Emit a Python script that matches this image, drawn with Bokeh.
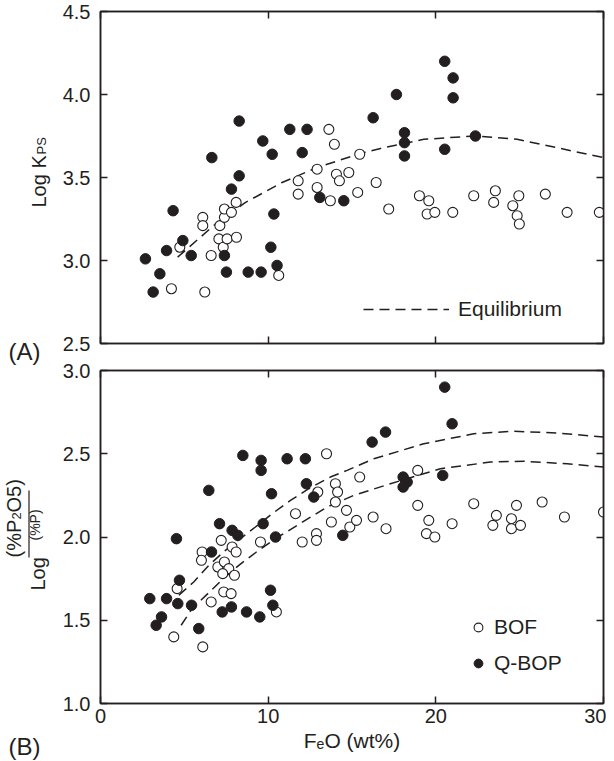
import math
from bokeh.plotting import figure
from bokeh.models import Range1d, FixedTicker, LinearAxis, Legend, LegendItem, PrintfTickFormatter
from bokeh.core.properties import value
from bokeh.layouts import column, row
from bokeh.embed import file_html
from bokeh.resources import INLINE

# ---------------- data ----------------
x_ticks = [0, 10, 20, 30]
a_y_ticks = [2.5, 3.0, 3.5, 4.0, 4.5]
b_y_ticks = [1.0, 1.5, 2.0, 2.5, 3.0]
x_title = "F\u2091O (wt%)"

# Panel A: Log K_PS vs FeO
a_bof_x = [4.23, 6.22, 4.73, 6.60, 6.10, 6.10, 7.12, 7.06, 7.32, 7.55, 8.11, 7.39, 7.39, 7.81, 8.09,
           10.63, 11.79, 11.79, 12.92, 12.92, 13.71, 13.62, 13.95, 14.07, 14.25, 14.81, 15.46, 15.34,
           16.44, 17.19, 19.02, 19.58, 19.48, 19.94, 21.01, 22.26, 23.55, 23.45, 24.59, 24.95, 24.85,
           24.98, 26.53, 27.83, 29.75]
a_bof_y = [2.83, 2.81, 3.08, 3.03, 3.26, 3.21, 3.21, 3.13, 3.08, 3.13, 3.14, 3.26, 3.31, 3.29, 3.35,
           2.91, 3.48, 3.40, 3.55, 3.44, 3.36, 3.79, 3.70, 3.52, 3.48, 3.53, 3.64, 3.41,
           3.47, 3.31, 3.39, 3.36, 3.28, 3.29, 3.29, 3.39, 3.42, 3.35, 3.33, 3.39, 3.27,
           3.22, 3.40, 3.29, 3.29]
a_qbop_x = [2.68, 3.54, 3.14, 3.94, 4.33, 4.91, 5.41, 6.64, 7.39, 7.51, 7.81, 8.27, 8.27, 8.81, 9.58,
            9.68, 10.16, 10.34, 10.24, 10.53, 11.29, 12.32, 12.03, 13.08, 14.51, 16.26, 17.65, 18.13,
            18.13, 18.13, 20.53, 21.03, 21.03, 20.53, 22.36]
a_qbop_y = [3.01, 2.92, 2.81, 3.06, 3.30, 3.12, 3.03, 3.62, 3.03, 2.93, 3.43, 3.51, 3.84, 2.93, 2.93,
            3.72, 3.08, 3.28, 3.64, 2.97, 3.79, 3.79, 3.65, 3.38, 3.36, 3.86, 4.00, 3.77,
            3.71, 3.63, 4.20, 4.10, 3.98, 3.67, 3.75]
a_eq_x = [4.6, 6.86, 8.65, 10.83, 12.92, 15.5, 16.7, 19.28, 22.36, 24.85, 27.2, 30.0]
a_eq_y = [3.02, 3.22, 3.35, 3.47, 3.56, 3.645, 3.675, 3.73, 3.75, 3.73, 3.68, 3.62]

# Panel B: Log (%P2O5)/(%P) vs FeO
b_bof_x = [4.37, 6.10, 4.57, 6.60, 6.06, 6.02, 7.20, 7.85, 8.09, 7.00, 7.39, 7.65, 7.29, 7.99, 7.35,
           7.79, 9.54, 10.49, 11.63, 12.03, 12.88, 12.88, 12.96, 13.48, 14.01, 14.14, 14.01, 13.77,
           14.67, 14.87, 15.27, 15.46, 16.26, 17.03, 18.92, 18.92, 19.58, 19.44, 19.94, 20.97, 22.26,
           23.61, 23.40, 24.51, 24.51, 25.05, 24.81, 26.34, 27.67, 30.0]
b_bof_y = [1.40, 1.34, 1.69, 1.61, 1.91, 1.86, 1.98, 1.94, 1.91, 1.82, 1.85, 1.81, 1.78, 1.77, 1.67,
           1.66, 1.97, 1.55, 2.14, 1.97, 2.02, 1.98, 2.27, 2.50, 2.32, 2.27, 2.21, 2.09,
           2.16, 2.06, 2.10, 2.36, 2.12, 2.05, 2.40, 2.19, 2.10, 2.02, 2.00, 2.08, 2.20,
           2.13, 2.07, 2.11, 2.05, 2.07, 2.19, 2.21, 2.12, 2.15]
b_qbop_x = [2.94, 3.64, 3.32, 3.94, 4.61, 4.53, 4.71, 5.43, 5.86, 6.46, 6.62, 7.10, 7.26, 7.81, 7.85,
            8.19, 8.49, 8.71, 9.50, 9.58, 9.58, 9.70, 10.14, 10.28, 10.20, 10.44, 11.13, 12.22,
            12.28, 12.72, 14.45, 16.20, 17.00, 18.05, 18.29, 18.05, 20.41, 20.53, 20.97]
b_qbop_y = [1.63, 1.52, 1.47, 1.63, 1.60, 1.99, 1.74, 1.59, 1.45, 2.28, 1.91, 2.08, 1.55, 1.58, 2.04,
            2.01, 2.49, 1.55, 1.52, 2.46, 2.40, 2.08, 1.68, 1.59, 2.26, 2.00, 2.47, 2.47,
            2.32, 2.24, 2.01, 2.57, 2.63, 2.36, 2.33, 2.30, 2.37, 2.90, 2.68]
b_eq_hi_x = [4.67, 5.56, 6.46, 7.45, 9.24, 10.24, 11.33, 12.42, 13.71, 14.71, 16.3, 19.28, 22.26,
             24.65, 27.23, 30.0]
b_eq_hi_y = [1.65, 1.73, 1.83, 1.92, 2.06, 2.14, 2.22, 2.29, 2.36, 2.40, 2.47, 2.56, 2.62,
             2.635, 2.625, 2.60]
b_eq_lo_x = [4.81, 5.47, 6.40, 7.32, 8.25, 9.3, 10.44, 11.73, 13.52, 15.1, 17.29, 20.27, 23.25,
             25.24, 27.83, 30.0]
b_eq_lo_y = [1.47, 1.57, 1.66, 1.75, 1.83, 1.91, 1.99, 2.07, 2.18, 2.25, 2.32, 2.41, 2.45,
             2.455, 2.44, 2.42]

# ---------------- styling / layout sizes ----------------
INK = "#231f20"
FONT = "Liberation Sans"
DASH = "10 6"
TICK_FS = "20px"
STRIP_W = 58            # left title strip (px)
MAIN_W = 548            # panel figures (px)
H_A, H_B = 358, 402     # panel heights (px)
BASE_FIX = 6            # the text glyph sits this much below its alphabetic anchor


def style_axis(ax, ticks, show_labels, fmt=None, standoff=9):
    ax.ticker = FixedTicker(ticks=ticks)
    ax.major_tick_in = 7
    ax.major_tick_out = 0
    ax.minor_tick_line_color = None
    ax.axis_line_color = INK
    ax.axis_line_width = 1.5
    ax.major_tick_line_color = INK
    ax.major_tick_line_width = 1.5
    if fmt is not None:
        ax.formatter = fmt
    if show_labels:
        ax.major_label_text_font = FONT
        ax.major_label_text_font_size = TICK_FS
        ax.major_label_text_color = INK
        ax.major_label_standoff = standoff
    else:
        # tick marks only: labels take no room and are not painted
        ax.major_label_text_font_size = "0px"
        ax.major_label_text_color = None
        ax.major_label_standoff = 0


def make_panel(height, yr, yticks, btop, bbot, xlabels):
    p = figure(width=MAIN_W, height=height, x_range=Range1d(0, 30), y_range=Range1d(*yr),
               output_backend="svg", toolbar_location=None, title=None,
               x_axis_type=None, y_axis_type=None,
               min_border_left=100 - STRIP_W, min_border_right=3,
               min_border_top=btop, min_border_bottom=bbot)
    p.outline_line_color = INK
    p.outline_line_width = 1.5
    p.background_fill_color = "white"
    p.border_fill_color = "white"
    fmt = PrintfTickFormatter(format="%.1f")
    below = LinearAxis(); style_axis(below, x_ticks, xlabels, standoff=5); p.add_layout(below, "below")
    above = LinearAxis(); style_axis(above, x_ticks, False); p.add_layout(above, "above")
    left = LinearAxis(); style_axis(left, yticks, True, fmt, standoff=10); p.add_layout(left, "left")
    right = LinearAxis(); style_axis(right, yticks, False); p.add_layout(right, "right")
    return p, below


def blank(width, height):
    # plain drawing strip in pixel units, y growing downwards
    s = figure(width=width, height=height, x_range=Range1d(0, width), y_range=Range1d(height, 0),
               output_backend="svg", toolbar_location=None, title=None,
               x_axis_type=None, y_axis_type=None,
               min_border=0, min_border_left=0, min_border_right=0, min_border_top=0,
               min_border_bottom=0)
    s.outline_line_color = None
    s.background_fill_color = "white"
    s.border_fill_color = "white"
    return s


def txt(s, text, x, y, size, angle=0.0):
    if angle == 0.0:
        y = y - BASE_FIX
    else:
        x = x - BASE_FIX
    s.text(x=[x], y=[y], text=[text], angle=angle, text_font=value(FONT),
           text_font_size=value(size), text_color=INK, text_align="left",
           text_baseline="alphabetic")


# ---------------- panel A ----------------
pA, _ = make_panel(H_A, (2.5, 4.5), a_y_ticks, 11, 15, False)
eqA = pA.line(a_eq_x, a_eq_y, line_color=INK, line_width=1.5, line_dash=DASH)
pA.scatter(a_bof_x, a_bof_y, marker="circle", size=10, fill_color="white",
           line_color=INK, line_width=1.1)
pA.scatter(a_qbop_x, a_qbop_y, marker="circle", size=10.5, fill_color=INK, line_color=INK)
pA.add_layout(Legend(items=[LegendItem(label="Equilibrium", renderers=[eqA])],
                     location=(263, 22), glyph_width=86, glyph_height=20, label_standoff=9,
                     padding=0, margin=0, border_line_color=None, background_fill_alpha=0,
                     label_text_font=FONT, label_text_font_size="21px", label_text_color=INK,
                     label_height=20))

# ---------------- panel B ----------------
pB, xaxB = make_panel(H_B, (1.0, 3.0), b_y_ticks, 12, 57, True)
xaxB.axis_label = x_title
xaxB.axis_label_text_font = FONT
xaxB.axis_label_text_font_size = "21px"
xaxB.axis_label_text_font_style = "normal"
xaxB.axis_label_text_color = INK
xaxB.axis_label_standoff = 3
pB.line(b_eq_hi_x, b_eq_hi_y, line_color=INK, line_width=1.5, line_dash=DASH)
pB.line(b_eq_lo_x, b_eq_lo_y, line_color=INK, line_width=1.5, line_dash=DASH)
bof = pB.scatter(b_bof_x, b_bof_y, marker="circle", size=10, fill_color="white",
                 line_color=INK, line_width=1.1)
qbop = pB.scatter(b_qbop_x, b_qbop_y, marker="circle", size=10.5, fill_color=INK, line_color=INK)
pB.add_layout(Legend(items=[LegendItem(label="BOF", renderers=[bof]),
                            LegendItem(label="Q-BOP", renderers=[qbop])],
                     location=(367, 28), glyph_width=22, glyph_height=22, label_standoff=5,
                     spacing=12, padding=0, margin=0, border_line_color=None,
                     background_fill_alpha=0, label_text_font=FONT, label_text_font_size="21px",
                     label_text_color=INK, label_height=22))

# ---------------- left strip: y-axis titles, panel letters ----------------
R = math.pi / 2
strip = blank(STRIP_W, H_A + H_B)
txt(strip, "Log K", 44, 207, "20px", angle=R)
txt(strip, "PS", 47, 154, "13px", angle=R)
txt(strip, "(A)", 8, 357, "24px")
txt(strip, "Log", 43, 590, "20px", angle=R)
txt(strip, "(%P", 19, 557, "20px", angle=R)
txt(strip, "2", 22, 519, "13px", angle=R)
txt(strip, "O5)", 19, 512, "20px", angle=R)
strip.segment(x0=[28.5], y0=[490], x1=[28.5], y1=[557], line_color=INK, line_width=1.2)
txt(strip, "(%P)", 40, 540, "14px", angle=R)
txt(strip, "(B)", 8, 752, "24px")

layout = row(strip, column(pA, pB, spacing=0), spacing=0)
open("out.html", "w").write(file_html(layout, INLINE))
